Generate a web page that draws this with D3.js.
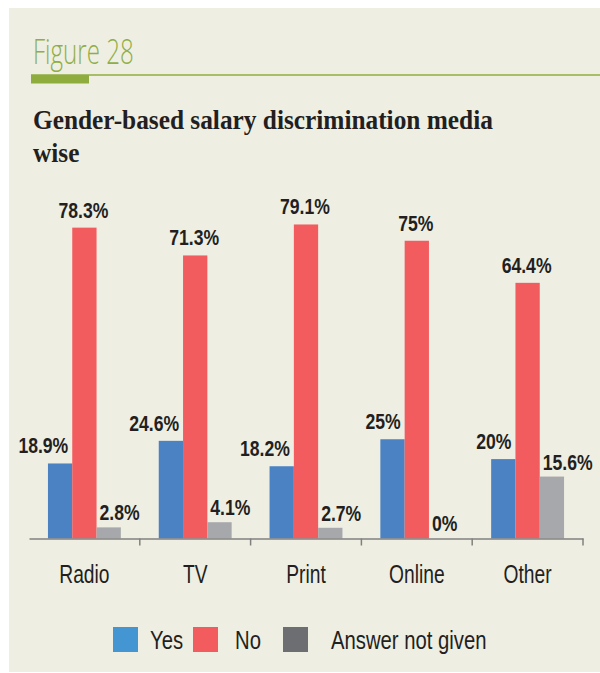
<!DOCTYPE html>
<html>
<head>
<meta charset="utf-8">
<script src="https://cdn.jsdelivr.net/npm/d3@7"></script>
<style>
  html, body { margin: 0; padding: 0; background: #ffffff; }
  svg { display: block; }
  .cond { font-family: "Liberation Sans", Arimo, Arial, sans-serif; }
</style>
</head>
<body>
<svg id="chart" width="600" height="673"></svg>
<script>
// Survey answers per media type (percent)
const categories = ["Radio", "TV", "Print", "Online", "Other"];
const seriesNames = ["Yes", "No", "Answer not given"];
const yesValues = [18.9, 24.6, 18.2, 25, 20];
const noValues = [78.3, 71.3, 79.1, 75, 64.4];
const notGivenValues = [2.8, 4.1, 2.7, 0, 15.6];
const barColors = ["#4a82c4", "#f25c5f", "#a7a8ab"];
const legendColors = ["#4496d3", "#f25c5f", "#6d6e71"];

const seriesValues = [yesValues, noValues, notGivenValues];
const rows = categories.map((c, i) => ({
  category: c,
  values: seriesNames.map((s, k) => ({ series: s, k, value: seriesValues[k][i] }))
}));

// Narrow a text horizontally about its anchor point (condensed look)
function condense(sel, factor) {
  sel.each(function () {
    const ax = +(this.getAttribute("x") || 0);
    d3.select(this).attr("transform",
      `translate(${ax},0) scale(${factor},1) translate(${-ax},0)`);
  });
}

const svg = d3.select("#chart");

// Panel background
svg.append("rect").attr("x", 9).attr("y", 8).attr("width", 591).attr("height", 664)
  .attr("fill", "#efeee3");

// Figure header
svg.append("text").attr("x", 33).attr("y", 64)
  .attr("font-family", "'Open Sans', 'Noto Sans', sans-serif")
  .attr("font-weight", 300).attr("font-size", 34).attr("fill", "#8fae45")
  .text("Figure 28")
  .call(condense, 0.71);
svg.append("line").attr("x1", 31).attr("x2", 600).attr("y1", 75).attr("y2", 75)
  .attr("stroke", "#8fac3f").attr("stroke-width", 1.6);
svg.append("rect").attr("x", 31).attr("y", 75).attr("width", 58).attr("height", 8.5)
  .attr("fill", "#8fac3f");

// Title
const title = svg.append("text").attr("x", 33)
  .attr("font-family", "'Liberation Serif', 'DejaVu Serif', serif")
  .attr("font-weight", "bold").attr("font-size", 28).attr("fill", "#231f20");
title.append("tspan").attr("x", 33).attr("y", 129).text("Gender-based salary discrimination media");
title.append("tspan").attr("x", 33).attr("y", 162).text("wise");
title.call(condense, 0.905);

// Scales
const x0 = d3.scaleBand().domain(categories).range([29, 583]).paddingInner(0).paddingOuter(0);
const x1 = d3.scaleBand().domain(seriesNames).range([0, x0.bandwidth()]).paddingInner(0).paddingOuter(0.78);
const y = d3.scaleLinear().domain([0, 100]).range([538.5, 141.5]);

// Bars
const groups = svg.append("g").selectAll("g").data(rows).join("g")
  .attr("transform", d => `translate(${x0(d.category)},0)`);
groups.selectAll("rect").data(d => d.values).join("rect")
  .attr("x", d => x1(d.series))
  .attr("y", d => y(d.value))
  .attr("width", x1.bandwidth())
  .attr("height", d => y(0) - y(d.value))
  .attr("fill", d => barColors[d.k]);

// Value labels
const fmt = v => `${v}%`;
groups.selectAll("text").data(d => d.values).join("text")
  .attr("class", "cond")
  .attr("font-weight", "bold").attr("font-size", 22).attr("fill", "#231f20")
  .attr("text-anchor", d => ["end", "middle", "start"][d.k])
  .attr("x", d => d.k === 0 ? x1(d.series) + x1.bandwidth() - 4
                : d.k === 1 ? x1(d.series) + x1.bandwidth() / 2 - 1
                : x1(d.series) + 3)
  .attr("y", d => y(d.value) - (d.k === 2 ? 7 : 10))
  .text(d => fmt(d.value))
  .call(condense, 0.8);

// Axis
const axis = svg.append("g").attr("transform", `translate(0,${y(0)})`)
  .call(d3.axisBottom(x0).tickSize(0).tickPadding(26));
axis.select(".domain").attr("stroke", "#808080").attr("stroke-width", 1.5);
axis.selectAll(".tick text").attr("class", "cond").attr("font-size", 26).attr("fill", "#231f20")
  .call(condense, 0.74);
axis.selectAll("line.sep").data(categories).join("line").attr("class", "sep")
  .attr("x1", d => x0(d) + x0.bandwidth()).attr("x2", d => x0(d) + x0.bandwidth())
  .attr("y1", 0).attr("y2", 7).attr("stroke", "#808080").attr("stroke-width", 1.5);

// Legend
const legendX = [113, 193, 283];
const legend = svg.append("g").selectAll("g").data(seriesNames).join("g")
  .attr("transform", (d, i) => `translate(${legendX[i]},627)`);
legend.append("rect").attr("width", 25).attr("height", 25).attr("fill", (d, i) => legendColors[i]);
legend.append("text").attr("class", "cond").attr("x", (d, i) => [37, 42, 48][i]).attr("y", 22)
  .attr("font-size", 26).attr("fill", "#231f20").text(d => d)
  .call(condense, 0.78);
</script>
</body>
</html>
